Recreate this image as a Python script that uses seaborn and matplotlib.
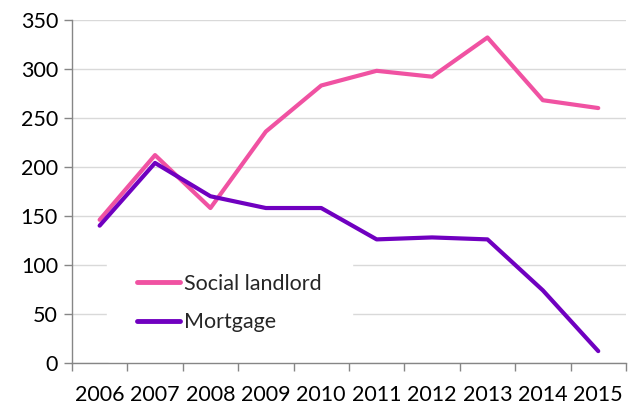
import matplotlib
matplotlib.use("Agg")
import matplotlib.pyplot as plt
import seaborn as sns
import pandas as pd
from matplotlib.ticker import FixedLocator, NullFormatter

years = [2006, 2007, 2008, 2009, 2010, 2011, 2012, 2013, 2014, 2015]
social_landlord = [146, 212, 158, 236, 283, 298, 292, 332, 268, 260]
mortgage = [140, 204, 170, 158, 158, 126, 128, 126, 74, 12]
series_names = ["Social landlord", "Mortgage"]
colors = ["#F052A2", "#7000C0"]

df = pd.DataFrame({
    "year": years * 2,
    "value": social_landlord + mortgage,
    "series": [series_names[0]] * len(years) + [series_names[1]] * len(years),
})

sns.set_theme(style="white")
plt.rcParams["font.family"] = ["Lato", "DejaVu Sans"]

fig = plt.figure(figsize=(6.31, 4.05), dpi=100)
ax = fig.add_axes([0.114, 0.104, 0.878, 0.847])

sns.lineplot(data=df, x="year", y="value", hue="series", palette=colors,
             linewidth=3.0, ax=ax, legend=True, zorder=3)

ax.set_xlim(years[0] - 0.5, years[-1] + 0.5)
ax.set_ylim(0, 350)
ax.set_yticks(range(0, 351, 50))
ax.yaxis.grid(True, color="#D9D9D9", linewidth=1)
ax.set_axisbelow(True)

# category-style x axis: tick marks between categories, labels at centres
bounds = [y - 0.5 for y in years] + [years[-1] + 0.5]
ax.xaxis.set_major_locator(FixedLocator(bounds))
ax.xaxis.set_major_formatter(NullFormatter())
ax.xaxis.set_minor_locator(FixedLocator(years))
ax.set_xticklabels([str(y) for y in years], minor=True)
ax.tick_params(axis="x", which="major", length=6, width=1, color="#868686", direction="out", bottom=True)
ax.tick_params(axis="x", which="minor", length=0, labelsize=15.5, pad=16, labelcolor="black")
ax.tick_params(axis="y", length=6, width=1, color="#868686", direction="out", left=True,
               labelsize=15.5, pad=4, labelcolor="black")

for s in ["top", "right"]:
    ax.spines[s].set_visible(False)
for s in ["left", "bottom"]:
    ax.spines[s].set_color("#868686")
    ax.spines[s].set_linewidth(1)
    ax.spines[s].set_zorder(3)

ax.set_xlabel("")
ax.set_ylabel("")

handles, labels = ax.get_legend_handles_labels()
leg = ax.legend(handles, labels, loc="upper left", bbox_to_anchor=(0.063, 0.347),
                frameon=True, facecolor="white", edgecolor="white", framealpha=1,
                fontsize=15.5, handlelength=2.0, handletextpad=0.2, labelspacing=0.85,
                borderpad=1.4, borderaxespad=0)
leg.set_zorder(2.2)
for line in leg.get_lines():
    line.set_linewidth(3.5)

fig.savefig("out.png", dpi=100)
